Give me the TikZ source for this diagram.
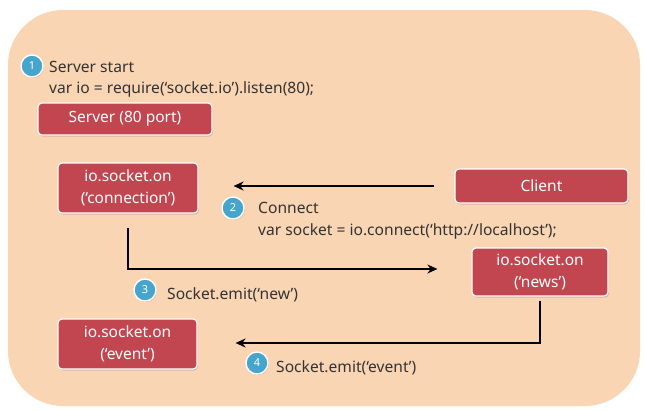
\documentclass[tikz,border=0pt]{standalone}
\usepackage{fontspec}
\setmainfont{Noto Sans}
\usetikzlibrary{shadows,arrows.meta}
\definecolor{peach}{HTML}{F9D5B4}
\definecolor{boxred}{HTML}{C2464F}
\definecolor{stepblue}{HTML}{45A5CC}
\tikzset{
  redbox/.style={draw=white, line width=1.2pt, fill=boxred, rounded corners=4pt,
    text=white, align=center, font=\fontsize{15.5}{22}\selectfont, inner sep=0pt,
    drop shadow={shadow xshift=1pt, shadow yshift=-1.5pt, opacity=0.35}},
  stepnum/.style={circle, draw=white, line width=1.4pt, fill=stepblue, text=white,
    minimum size=22pt, inner sep=0pt, font=\fontsize{11}{11}\selectfont,
    drop shadow={shadow xshift=0.8pt, shadow yshift=-1pt, opacity=0.35}},
  caption/.style={anchor=base west, inner sep=0pt, text=black!80,
    font=\fontsize{15.6}{18}\selectfont},
  flow/.style={line width=1.9pt, -{Stealth[length=10pt,width=9pt]}}
}
\begin{document}
\begin{tikzpicture}[x=1pt,y=-1pt]
\useasboundingbox (0,0) rectangle (645,410);
\fill[white] (0,0) rectangle (645,410);
% rounded panel behind everything
\fill[peach] (8,10) [rounded corners=55pt] rectangle (640,406);

% boxes
\node[redbox, minimum width=174pt, minimum height=32pt] (server) at (125,119) {Server (80 port)};
\node[redbox, minimum width=140pt, minimum height=50pt] (conn) at (128,188) {io.socket.on\\(‘connection’)};
\node[redbox, minimum width=173pt, minimum height=34pt] (client) at (541.5,186) {Client};
\node[redbox, minimum width=136pt, minimum height=48pt] (news) at (540,272) {io.socket.on\\(‘news’)};
\node[redbox, minimum width=139pt, minimum height=50pt] (event) at (127.5,344) {io.socket.on\\(‘event’)};

% step markers and captions
\node[stepnum] (s1) at (32,66) {1};
\node[caption] (t1) at (49,72) {Server start};
\node[caption] (t1b) at (49,93) {var io = require(‘socket.io’).listen(80);};

\node[stepnum] (s2) at (233,208) {2};
\node[caption] (t2) at (258,213) {Connect};
\node[caption] (t2b) at (258,235) {var socket = io.connect(‘http://localhost’);};

\node[stepnum] (s3) at (145,290) {3};
\node[caption] (t3) at (167,299) {Socket.emit(‘new’)};

\node[stepnum] (s4) at (257,363) {4};
\node[caption] (t4) at (276,372) {Socket.emit(‘event’)};

% connectors
\coordinate (c1) at (conn.south |- 0,269);
\coordinate (c2) at (news.south |- 0,343);
\draw[flow, shorten <=20pt, shorten >=35pt] (client.west) -- (conn.east |- client.west);
\draw[flow, shorten <=14pt, shorten >=34pt] (conn.south) -- (c1) -- (news.west |- c1);
\draw[flow, shorten <=4pt, shorten >=38pt] (news.south) -- (c2) -- (event.east |- c2);
\end{tikzpicture}
\end{document}
